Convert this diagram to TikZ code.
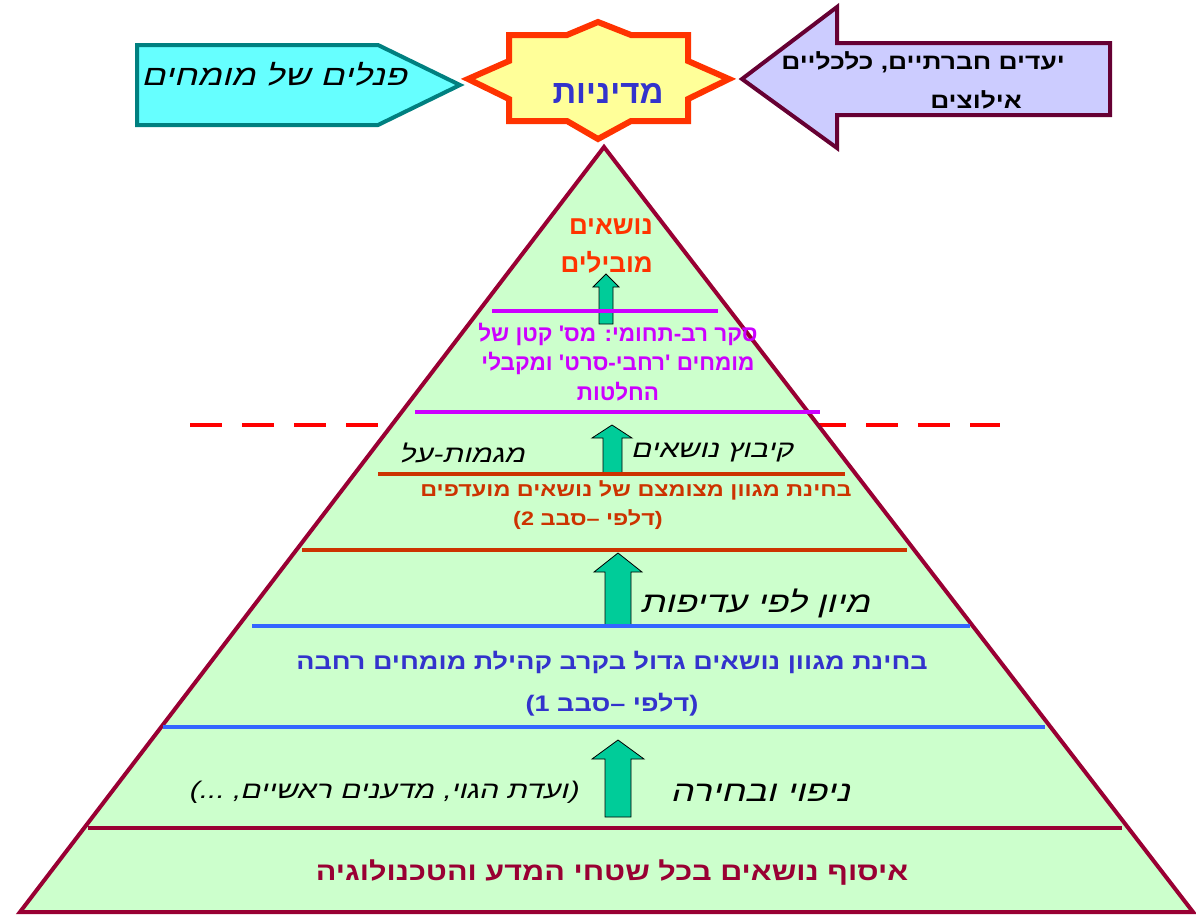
\documentclass[tikz,border=0pt]{standalone}
\usepackage{fontspec}
\setmainfont{Liberation Sans}
\newfontfamily\hebfont[Script=Hebrew]{Liberation Sans}
\newfontfamily\hebwide[Script=Hebrew,FakeStretch=1.2]{Liberation Sans}
\newfontfamily\hebslant[Script=Hebrew,FakeSlant=0.25,FakeStretch=1.25]{Liberation Sans}
\TeXXeTstate=1

\definecolor{pyrgreen}{HTML}{CCFFCC}
\definecolor{pyrline}{HTML}{990033}
\definecolor{arrgreen}{HTML}{00CC99}
\definecolor{panelcyan}{HTML}{66FFFF}
\definecolor{panelteal}{HTML}{008080}
\definecolor{staryellow}{HTML}{FFFF99}
\definecolor{starred}{HTML}{FF3300}
\definecolor{goallilac}{HTML}{CCCCFF}
\definecolor{goalborder}{HTML}{660033}
\definecolor{surveymag}{HTML}{CC00FF}
\definecolor{roundtwo}{HTML}{CC3300}
\definecolor{roundoneline}{HTML}{3366FF}
\definecolor{roundone}{HTML}{3333CC}

\tikzset{
  heb/.style={font=\hebfont\bfseries\fontsize{#1}{#1}\selectfont, inner sep=0pt},
  hebw/.style={font=\hebwide\bfseries\fontsize{#1}{#1}\selectfont, inner sep=0pt},
  hebit/.style={font=\hebslant\fontsize{#1}{#1}\selectfont, inner sep=0pt},
  tier/.style={line width=3.5pt},
  uparrow/.style={fill=arrgreen, draw=black, line width=0.8pt}
}

\begin{document}
\begin{tikzpicture}[x=1pt, y=-1pt]
  \useasboundingbox (0,0) rectangle (1196,914);
  % dashed cut, behind the pyramid
  \draw[red, line width=4pt, dash pattern=on 32pt off 20pt] (190,425) -- (1000,425);
  % the pyramid
  \draw[fill=pyrgreen, draw=pyrline, line width=4pt] (604,147) -- (1193,912) -- (20,912) -- cycle;
  % green arrows
  \draw[uparrow] (606,274) -- (619,287) -- (613,287) -- (613,324) -- (599,324) -- (599,287) -- (593,287) -- cycle;
  \draw[uparrow] (612,425) -- (632,438) -- (622,438) -- (622,473) -- (603,473) -- (603,438) -- (592,438) -- cycle;
  \draw[uparrow] (618,553) -- (642,572) -- (631,572) -- (631,626) -- (605,626) -- (605,572) -- (594,572) -- cycle;
  \draw[uparrow] (618,740) -- (644,759) -- (631,759) -- (631,817) -- (605,817) -- (605,759) -- (592,759) -- cycle;
  % tiers
  \draw[tier, surveymag] (492,311) -- (718,311);
  \draw[tier, surveymag] (415,412) -- (820,412);
  \draw[tier, roundtwo] (378,474) -- (845,474);
  \draw[tier, roundtwo] (302,550) -- (907,550);
  \draw[tier, roundoneline] (252,626) -- (970,626);
  \draw[tier, roundoneline] (163,727) -- (1045,727);
  \draw[tier, pyrline] (88,828) -- (1122,828);
  % texts inside
  \node[heb=26, text=starred, align=right, anchor=east] (leading) at (653,246) {\beginR נושאים\endR\\[12pt]\beginR מובילים\endR};
  \node[heb=22.5, text=surveymag, align=center] (survey) at (618,362) {\beginR סקר רב-תחומי: מס' קטן של\endR\\[6pt]\beginR מומחים 'רחבי-סרט' ומקבלי\endR\\[6pt]\beginR החלטות\endR};
  \node[hebit=24, anchor=east] (grouping) at (793,453) {\beginR קיבוץ נושאים\endR};
  \node[hebit=24, anchor=east] (trends) at (525,453) {\beginR מגמות-על\endR};
  \node[hebw=19.5, text=roundtwo] (round2a) at (636,490) {\beginR בחינת מגוון מצומצם של נושאים מועדפים\endR};
  \node[hebw=19.5, text=roundtwo] (round2b) at (588,520) {\beginR(דלפי –סבב 2)\endR};
  \node[hebit=29, anchor=east] (sorting) at (870,603) {\beginR מיון לפי עדיפות\endR};
  \node[hebw=22.5, text=roundone] (round1a) at (612,662) {\beginR בחינת מגוון נושאים גדול בקרב קהילת מומחים רחבה\endR};
  \node[hebw=22.5, text=roundone] (round1b) at (612,705) {\beginR(דלפי –סבב 1)\endR};
  \node[hebit=29, anchor=east] (screening) at (850,793) {\beginR ניפוי ובחירה\endR};
  \node[hebit=24, anchor=east] (committee) at (578,792) {\beginR(ועדת הגוי, מדענים ראשיים, ...)\endR};
  \node[hebw=25.5, text=pyrline] (collect) at (612,873) {\beginR איסוף נושאים בכל שטחי המדע והטכנולוגיה\endR};
  % top: experts panel, policy star, goals arrow
  \draw[fill=panelcyan, draw=panelteal, line width=4pt] (137,45) -- (378,45) -- (460,85) -- (378,125) -- (137,125) -- cycle;
  \node[hebit=28.5] (panels) at (274,74) {\beginR פנלים של מומחים\endR};
  \draw[fill=staryellow, draw=starred, line width=6pt]
    (598,22) -- (631,35) -- (688,35) -- (688,61) -- (729,79) -- (688,99) -- (688,121)
    -- (631,121) -- (598,139) -- (567,121) -- (509,121) -- (509,99) -- (468,79)
    -- (509,61) -- (509,35) -- (567,35) -- cycle;
  \node[heb=33, text=roundone] (policy) at (608,93) {\beginR מדיניות\endR};
  \draw[fill=goallilac, draw=goalborder, line width=4pt] (742,79) -- (837,7) -- (837,43) -- (1110,43) -- (1110,115) -- (837,115) -- (837,148) -- cycle;
  \node[hebw=22, anchor=east] (goals) at (1065,62) {\beginR יעדים חברתיים, כלכליים\endR};
  \node[hebw=22, anchor=east] (limits) at (1022,100) {\beginR אילוצים\endR};
\end{tikzpicture}
\end{document}
